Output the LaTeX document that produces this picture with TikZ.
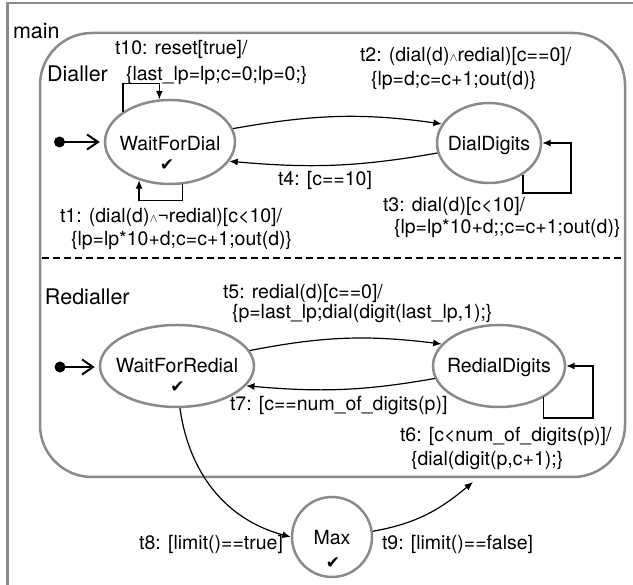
\documentclass[tikz,border=0pt]{standalone}
\usepackage{fontspec}
\setmainfont{TeX Gyre Heros}
\newfontfamily\symfont{DejaVu Sans}
\usetikzlibrary{arrows.meta,calc,shapes.geometric}
\definecolor{stgray}{RGB}{138,138,142}
\newcommand\andsym{{\fontsize{13}{13}\selectfont$\wedge$}}
\newcommand\twol[3]{\begin{tabular}[t]{@{}l@{}}#2\\[#1]\hspace*{11pt}#3\end{tabular}}
\begin{document}
\begin{tikzpicture}[x=1pt,y=1pt,
  every node/.style={inner sep=0pt, outer sep=0pt},
  stnode/.style={draw=stgray, line width=2.5pt, ellipse, outer sep=1.2pt},
  sttext/.style={font=\fontsize{19.5}{22}\selectfont, anchor=base},
  lbl/.style={font=\fontsize{19.5}{20}\selectfont, anchor=base west},
  lble/.style={font=\fontsize{19.5}{20}\selectfont, anchor=base east},
  region/.style={font=\fontsize{21.5}{24}\selectfont, anchor=base west},
  tr/.style={draw=black, line width=1.2pt, -{Latex[length=8.5pt,width=7pt]}},
  initdot/.style={circle, fill=black, minimum size=11pt},
  initarr/.style={line width=2pt, -{Straight Barb[length=11pt,width=15pt]}, shorten >=4pt},
  chk/.style={font=\symfont\fontsize{17}{17}\selectfont}]
\useasboundingbox (0,0) rectangle (633,585);
% outer frame
\draw[stgray, line width=2.8pt] (7.5,0) -- (7.5,582) -- (633,582);
% composite state
\draw[stgray, line width=2.5pt, rounded corners=52pt] (40,108) rectangle (625,552);
\draw[line width=2pt, dash pattern=on 7pt off 4pt] (42,327) -- (624,327);
% region labels
\node[region] (mainlbl) at (13,546) {main};
\node[region] (diallbl) at (47,503) {Dialler};
\node[region] (redlbl) at (45,280) {Redialler};
% states
\node[stnode, minimum width=130pt, minimum height=84pt] (wfd) at (170,443) {};
\node[sttext] (wfdt) at (170,434) {WaitForDial};
\node[chk] (wfdc) at (167,420) {✔};
\node[stnode, minimum width=104pt, minimum height=80pt] (dd) at (489,442) {};
\node[sttext] (ddt) at (489,434) {DialDigits};
\node[stnode, minimum width=154pt, minimum height=82pt] (wfr) at (177,219) {};
\node[sttext] (wfrt) at (177,212) {WaitForRedial};
\node[chk] (wfrc) at (177.5,198) {✔};
\node[stnode, minimum width=132pt, minimum height=82pt] (rd) at (499,219) {};
\node[sttext] (rdt) at (499,212) {RedialDigits};
\node[stnode, circle, minimum size=80pt] (mx) at (332,48) {};
\node[sttext] (mxt) at (332,40) {Max};
\node[chk] (mxc) at (333,22) {✔};
% initial pseudostates
\node[initdot] (i1) at (59.5,443) {};
\draw[initarr] (i1.center) -- (i1.center -| wfd.west);
\node[initdot] (i2) at (60,218) {};
\draw[initarr] (i2.center) -- (i2.center -| wfr.west);
% transitions
\draw[tr] (wfd.147) |- ($(wfd.104)+(0,15.5)$) -- (wfd.104);
\draw[tr] (wfd.286) |- ($(wfd.231)+(0,-20)$) -- (wfd.231);
\draw[tr] (wfd.12) to[out=10,in=172] (dd.158);
\draw[tr] (dd.191) to[out=190,in=-5] (wfd.342);
\draw[tr] (dd.317) |- (571,392) |- (dd.east);
\draw[tr] (wfr.12) to[out=11,in=173] (rd.159);
\draw[tr] (rd.191) to[out=190,in=-5] (wfr.344);
\draw[tr] (rd.325) |- (593,167) |- (rd.east);
\draw[tr] (wfr.274) to[out=-82,in=165] (mx.west);
\coordinate (t9end) at (473,103);
\draw[tr] (mx.8) to[out=10,in=220] (t9end);
% labels
\node[lbl] (l10) at (115,530) {\twol{5pt}{t10: reset[true]/}{\{last\_lp=lp;c=0;lp=0;\}}};
\node[lbl] (l2) at (360,523) {\twol{3pt}{t2: (dial(d)\andsym redial)[c==0]/}{\{lp=d;c=c+1;out(d)\}}};
\node[lbl] (l4) at (278,399) {t4: [c==10]};
\node[lbl] (l3) at (383,373) {\twol{1pt}{t3: dial(d)[c<10]/}{\{lp=lp*10+d;;c=c+1;out(d)\}}};
\node[lbl] (l1) at (60,362) {\twol{2pt}{t1: (dial(d)\andsym ¬redial)[c<10]/}{\{lp=lp*10+d;c=c+1;out(d)\}}};
\node[lbl] (l5) at (223,286.5) {\twol{0pt}{t5: redial(d)[c==0]/}{\hspace*{-2pt}\{p=last\_lp;dial(digit(last\_lp,1);\}}};
\node[lbl] (l7) at (230,174) {t7: [c==num\_of\_digits(p)]};
\node[lbl] (l6) at (400,143) {\twol{3pt}{t6: [c<num\_of\_digits(p)]/}{\{dial(digit(p,c+1);\}}};
\node[lble] (l8) at (283,35) {t8: [limit()==true]};
\node[lbl] (l9) at (382,35) {t9: [limit()==false]};
\end{tikzpicture}
\end{document}
